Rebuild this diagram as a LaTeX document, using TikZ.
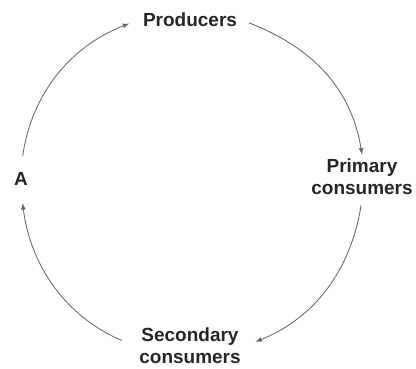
\documentclass[tikz,border=0pt]{standalone}
\usepackage{fontspec}
\setmainfont{Liberation Sans}
\usepackage{tikz}
\usetikzlibrary{positioning}

\begin{document}
\begin{tikzpicture}
      \useasboundingbox (0,0) rectangle (10.4,9.2);
      \tikzset{level/.style={font=\fontsize{13.5}{15.6}\selectfont\bfseries,
          text=black!85,align=center,inner sep=3pt}}

      % levels
      \node[level] (producers) at (4.75,8.7) {Producers};
      \node[level] (primary) at (9.05,4.775) {Primary\\consumers};
      \node[level] (secondary) at (4.75,0.55) {Secondary\\consumers};
      \node[level] (A) at (0.525,4.725) {A};

      % cycle
      \path[black!60,semithick,every edge/.append style={-latex}]
      (A.north) edge[out=82,in=201,shorten <=0.3cm,shorten >=0.25cm] (producers.west)
      (producers.east) edge[out=-21,in=99,shorten <=0.2cm] (primary.north)
      (primary.south) edge[out=261,in=22,shorten <=0.15cm,shorten >=0.28cm] (secondary.east)
      (secondary.west) edge[out=157,in=-83,shorten <=0.35cm,shorten >=0.33cm] (A.south);
    \end{tikzpicture}
\end{document}
